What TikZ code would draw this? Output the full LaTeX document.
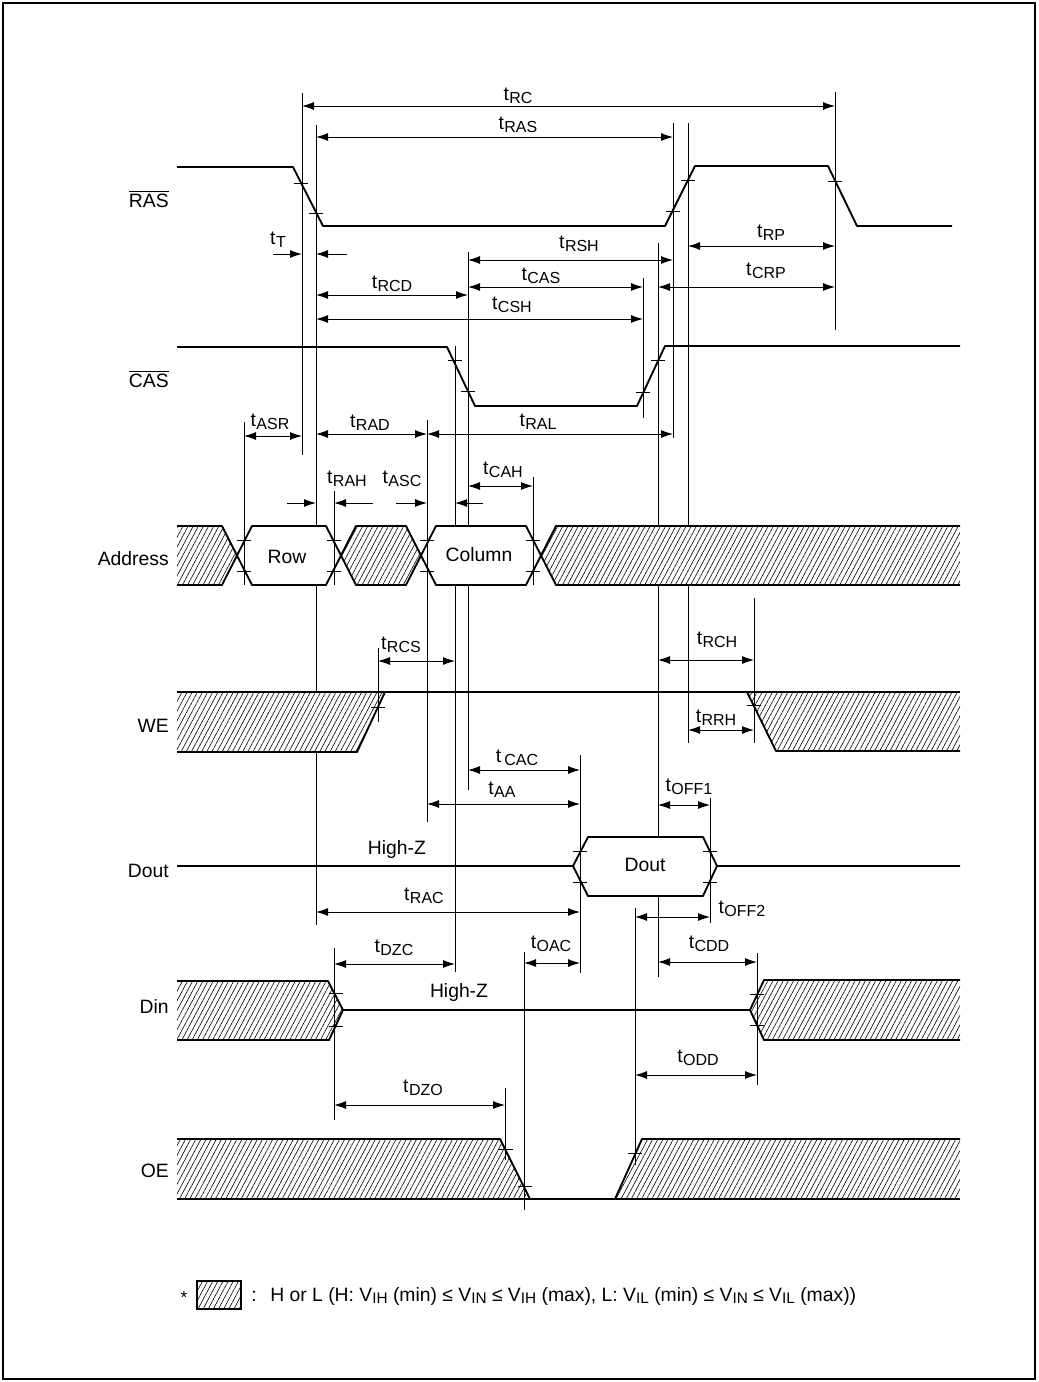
\documentclass[tikz,border=0pt]{standalone}
\usepackage{fontspec}
\setmainfont{Liberation Sans}
\usetikzlibrary{arrows.meta,patterns.meta}
\newcommand\tsb[1]{t\kern0.3pt\raisebox{-2.4pt}{\fontsize{12}{13}\selectfont #1}}
\newcommand\vsb[1]{\raisebox{-2.2pt}{\fontsize{11.5}{12}\selectfont #1}}
\newcommand\tk[2]{\draw[tkst] ({#1-7},#2) -- ({#1+7},#2);}
\begin{document}
\begin{tikzpicture}[x=0.75pt,y=-0.75pt,
  sig/.style={line width=1.4pt,line join=round},
  vl/.style={line width=0.7pt},
  tkst/.style={line width=0.6pt},
  dim/.style={line width=0.7pt,{Latex[length=9pt,width=6pt]}-{Latex[length=9pt,width=6pt]}},
  ar/.style={line width=0.7pt,-{Latex[length=9pt,width=6pt]}},
  hatch/.style={pattern={Lines[angle=62,distance=3.4pt,line width=0.45pt]}},
  lbl/.style={font=\fontsize{14.5}{16}\selectfont,inner sep=0pt},
  sname/.style={font=\fontsize{14.5}{16}\selectfont,inner sep=0pt,anchor=base east}]
\useasboundingbox (0,0) rectangle (1039,1382);
\draw[line width=0.8pt] (3,3) rectangle (1035,1379);

% ---------------- hatched fills ----------------
\fill[hatch] (177,526)--(222,526)--(237,555.5)--(222,585)--(177,585)--cycle;
\fill[hatch] (341,555.5)--(356,526)--(406,526)--(421,555.5)--(406,585)--(356,585)--cycle;
\fill[hatch] (541,555.5)--(556,526)--(960,526)--(960,585)--(556,585)--cycle;
\fill[hatch] (177,692)--(385,692)--(357,752)--(177,752)--cycle;
\fill[hatch] (747,692)--(960,692)--(960,751)--(776,751)--cycle;
\fill[hatch] (177,981)--(328,981)--(343,1010)--(329,1040)--(177,1040)--cycle;
\fill[hatch] (750,1010)--(764,980)--(960,980)--(960,1040)--(764,1040)--cycle;
\fill[hatch] (177,1139)--(500,1139)--(530,1199)--(177,1199)--cycle;
\fill[hatch] (642,1139)--(960,1139)--(960,1199)--(615,1199)--cycle;

% ---------------- signals ----------------
% RAS
\draw[sig] (177,167)--(293,167)--(323,226)--(665,226)--(695,166)--(828,166)--(857,226)--(952,226);
% CAS
\draw[sig] (177,347)--(447,347)--(475,406)--(637,406)--(665,346)--(960,346);
% Address
\draw[sig] (177,526)--(222,526)--(252,585)--(326,585)--(356,526)--(406,526)--(436,585)--(526,585)--(556,526)--(960,526);
\draw[sig] (177,585)--(222,585)--(252,526)--(326,526)--(356,585)--(406,585)--(436,526)--(526,526)--(556,585)--(960,585);
% WE
\draw[sig] (177,692)--(960,692);
\draw[sig] (385,692)--(357,752)--(177,752);
\draw[sig] (747,692)--(776,751)--(960,751);
% Dout
\draw[sig] (177,866)--(573,866)--(588,837)--(703,837)--(717,866)--(960,866);
\draw[sig] (573,866)--(588,896)--(703,896)--(717,866);
% Din
\draw[sig] (177,981)--(328,981)--(343,1010)--(329,1040)--(177,1040);
\draw[sig] (343,1010)--(750,1010);
\draw[sig] (960,980)--(764,980)--(750,1010)--(764,1040)--(960,1040);
% OE
\draw[sig] (177,1139)--(500,1139)--(530,1199);
\draw[sig] (177,1199)--(960,1199);
\draw[sig] (615,1199)--(642,1139)--(960,1139);

% ---------------- ticks ----------------
\tk{301}{183} \tk{316}{213} \tk{673}{211} \tk{688}{180} \tk{835}{181}
\tk{455}{360} \tk{468}{391} \tk{643}{392} \tk{658}{360}
\tk{244}{540} \tk{244}{571} \tk{334}{540} \tk{334}{571}
\tk{427}{540} \tk{427}{571} \tk{533}{540} \tk{533}{571}
\tk{378}{707} \tk{754}{705}
\tk{580}{851} \tk{580}{882} \tk{710}{851} \tk{710}{882}
\tk{336}{993} \tk{336}{1026} \tk{757}{994} \tk{757}{1025}
\tk{506}{1149} \tk{525}{1186} \tk{635}{1153}

% ---------------- vertical reference lines ----------------
\draw[vl] (302,93)--(302,455);
\draw[vl] (316,125)--(316,526) (316,585)--(316,692) (316,752)--(316,925);
\draw[vl] (835,92)--(835,330);
\draw[vl] (673,123)--(673,438);
\draw[vl] (688,123)--(688,526) (688,585)--(688,743);
\draw[vl] (468,252)--(468,526) (468,585)--(468,790);
\draw[vl] (455,346)--(455,526) (455,585)--(455,972);
\draw[vl] (643,278)--(643,418);
\draw[vl] (658,243)--(658,526) (658,585)--(658,837);
\draw[vl] (658,896)--(658,977);
\draw[vl] (244,422)--(244,585);
\draw[vl] (334,491)--(334,585);
\draw[vl] (427,420)--(427,822);
\draw[vl] (533,477)--(533,585);
\draw[vl] (378,648)--(378,722);
\draw[vl] (754,598)--(754,743);
\draw[vl] (580,755)--(580,973);
\draw[vl] (710,798)--(710,923);
\draw[vl] (635,908)--(635,1165);
\draw[vl] (334,948)--(334,1120);
\draw[vl] (505,1088)--(505,1160);
\draw[vl] (524,952)--(524,1210);
\draw[vl] (757,953)--(757,1085);

% ---------------- dimension arrows ----------------
\draw[dim] (302,106)--(835,106);
\draw[dim] (316,137)--(673,137);
\draw[ar] (273,254)--(302,254);
\draw[ar] (347,254)--(316,254);
\draw[dim] (468,260)--(673,260);
\draw[dim] (688,246)--(835,246);
\draw[dim] (468,287)--(643,287);
\draw[dim] (658,287)--(835,287);
\draw[dim] (316,295)--(468,295);
\draw[dim] (316,319)--(643,319);
\draw[dim] (244,436)--(302,436);
\draw[dim] (316,434)--(427,434);
\draw[dim] (427,434)--(673,434);
\draw[ar] (287,503)--(316,503);
\draw[ar] (373,503)--(334,503);
\draw[ar] (396,503)--(427,503);
\draw[ar] (483,503)--(455,503);
\draw[dim] (468,486)--(533,486);
\draw[dim] (378,661)--(455,661);
\draw[dim] (658,660)--(754,660);
\draw[dim] (688,730)--(754,730);
\draw[dim] (468,770)--(580,770);
\draw[dim] (427,804)--(580,804);
\draw[dim] (658,805)--(710,805);
\draw[dim] (316,912)--(580,912);
\draw[dim] (635,917)--(710,917);
\draw[dim] (334,964)--(455,964);
\draw[dim] (524,963)--(580,963);
\draw[dim] (658,962)--(757,962);
\draw[dim] (635,1075)--(757,1075);
\draw[dim] (334,1105)--(505,1105);

% ---------------- timing labels ----------------
\node[lbl] (lRC) at (518,96) {\tsb{RC}};
\node[lbl] (lRAS) at (518,125) {\tsb{RAS}};
\node[lbl] (lT) at (278,240) {\tsb{T}};
\node[lbl] (lRSH) at (579,244) {\tsb{RSH}};
\node[lbl] (lRP) at (771,233) {\tsb{RP}};
\node[lbl] (lCAS) at (541,276) {\tsb{CAS}};
\node[lbl] (lCRP) at (766,271) {\tsb{CRP}};
\node[lbl] (lRCD) at (392,284) {\tsb{RCD}};
\node[lbl] (lCSH) at (512,305) {\tsb{CSH}};
\node[lbl] (lASR) at (270,422) {\tsb{ASR}};
\node[lbl] (lRAD) at (370,423) {\tsb{RAD}};
\node[lbl] (lRAL) at (538,422) {\tsb{RAL}};
\node[lbl] (lRAH) at (347,479) {\tsb{RAH}};
\node[lbl] (lASC) at (402,479) {\tsb{ASC}};
\node[lbl] (lCAH) at (503,470) {\tsb{CAH}};
\node[lbl] (lRCS) at (401,645) {\tsb{RCS}};
\node[lbl] (lRCH) at (717,640) {\tsb{RCH}};
\node[lbl] (lRRH) at (716,718) {\tsb{RRH}};
\node[lbl] (lCAC) at (517,758) {t\,\raisebox{-2.4pt}{\fontsize{12}{13}\selectfont CAC}};
\node[lbl] (lAA) at (502,790) {\tsb{AA}};
\node[lbl] (lOFFa) at (689,787) {\tsb{OFF1}};
\node[lbl] (lHZ1) at (397,849) {High-Z};
\node[lbl] (lRAC) at (424,896) {\tsb{RAC}};
\node[lbl] (lOFFb) at (742,909) {\tsb{OFF2}};
\node[lbl] (lDZC) at (394,948) {\tsb{DZC}};
\node[lbl] (lOAC) at (551,944) {\tsb{OAC}};
\node[lbl] (lCDD) at (709,944) {\tsb{CDD}};
\node[lbl] (lHZ2) at (459,992) {High-Z};
\node[lbl] (lODD) at (698,1058) {\tsb{ODD}};
\node[lbl] (lDZO) at (423,1088) {\tsb{DZO}};
\node[lbl] (row) at (287,557) {Row};
\node[lbl] (col) at (479,555) {Column};
\node[lbl] (dtxt) at (645,865) {Dout};

% ---------------- signal names ----------------
\node[sname] (nRAS) at (169,207) {$\overline{\mbox{RAS}}$};
\node[sname] (nCAS) at (169,387) {$\overline{\mbox{CAS}}$};
\node[sname] (nAddr) at (169,565) {Address};
\node[sname] (nWE) at (169,732) {WE};
\node[sname] (nDout) at (169,877) {Dout};
\node[sname] (nDin) at (169,1013) {Din};
\node[sname] (nOE) at (169,1177) {OE};

% ---------------- legend ----------------
\node[lbl,font=\fontsize{13}{14}\selectfont] (star) at (184,1298) {*};
\filldraw[hatch,line width=0.8pt] (197,1281) rectangle (241,1309);
\node[lbl] (colon) at (254,1296) {:};
\node[lbl,anchor=west,font=\fontsize{14.5}{16}\selectfont] (legtxt) at (270,1296)
  {H or L (H: V\vsb{IH} (min) ≤ V\vsb{IN} ≤ V\vsb{IH} (max), L: V\vsb{IL} (min) ≤ V\vsb{IN} ≤ V\vsb{IL} (max))};
\end{tikzpicture}
\end{document}
